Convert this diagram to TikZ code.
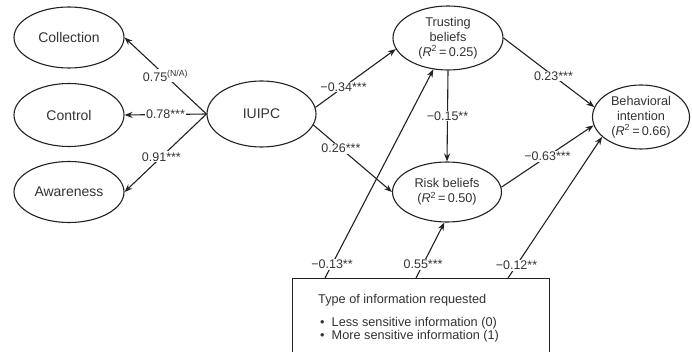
\documentclass[tikz,border=0pt]{standalone}
\usepackage{fontspec}
\setmainfont{Liberation Sans}
\usetikzlibrary{arrows.meta,shapes.geometric}
\definecolor{ink}{HTML}{222222}
\definecolor{txt}{HTML}{333333}
\tikzset{
  oval/.style={ellipse,draw=ink,line width=1.1pt,inner sep=0pt,text=txt,align=center},
  big/.style={font=\fontsize{14}{16}\selectfont},
  small/.style={font=\fontsize{12.7}{15}\selectfont},
  conn/.style={draw=ink,line width=1.1pt,-{Stealth[length=8pt,width=6pt]}},
  lbl/.style={fill=white,inner sep=1pt,text=txt,font=\fontsize{12.5}{14}\selectfont},
  boxtext/.style={anchor=west,inner sep=0pt,text=txt,font=\fontsize{12.7}{15}\selectfont}
}
\begin{document}
\begin{tikzpicture}[x=1pt,y=-1pt]
\clip (0,0) rectangle (692,352);
\fill[white] (0,0) rectangle (692,352);
% nodes
\node[oval,big,minimum width=110pt,minimum height=61pt] (coll) at (69,37.5) {Collection};
\node[oval,big,minimum width=110pt,minimum height=63pt] (ctrl) at (69,115) {Control};
\node[oval,big,minimum width=110pt,minimum height=61pt] (awar) at (69,192) {Awareness};
\node[oval,big,minimum width=109pt,minimum height=66pt] (iuipc) at (261.5,114) {IUIPC};
\node[oval,small,minimum width=110pt,minimum height=64pt] (trust) at (448,38) {Trusting\\beliefs\\(\textit{R}\textsuperscript{2}\,=\,0.25)};
\node[oval,small,minimum width=109pt,minimum height=60pt] (risk) at (447,192) {Risk beliefs\\(\textit{R}\textsuperscript{2}\,=\,0.50)};
\node[oval,small,minimum width=97pt,minimum height=64pt] (beh) at (641,117) {Behavioral\\intention\\(\textit{R}\textsuperscript{2}\,=\,0.66)};
\node[draw=ink,line width=1.1pt,anchor=north west,minimum width=257pt,minimum height=90pt,inner sep=0pt] (box) at (292,278) {};
\node[boxtext] (t1) at (318,300) {Type of information requested};
\node[boxtext] (t2) at (320,323) {•\ \ Less sensitive information (0)};
\node[boxtext] (t3) at (320,336) {•\ \ More sensitive information (1)};
\coordinate (b1) at (325,278);
\coordinate (b2) at (416,278);
\coordinate (b3) at (508,278);
% connectors
\draw[conn] (iuipc.west) -- node[lbl,pos=0.5] {0.75\textsuperscript{(N/A)}} (coll.east);
\draw[conn] (iuipc.west) -- node[lbl,pos=0.5] {0.78***} (ctrl.east);
\draw[conn] (iuipc.west) -- node[lbl,pos=0.55] {0.91***} (awar.east);
\draw[conn] (iuipc.7) -- node[lbl,pos=0.35] {−0.34***} (trust.192);
\draw[conn] (iuipc.-12) -- node[lbl,pos=0.35] {0.26***} (risk.180);
\draw[conn] (trust.south) -- node[lbl,pos=0.5] {−0.15**} (risk.north);
\draw[conn] (trust.east) -- node[lbl,pos=0.55] {0.23***} (beh.168);
\draw[conn] (risk.5) -- node[lbl,pos=0.5] {−0.63***} (beh.190);
\draw[conn] (b1) -- node[lbl,pos=0.065] {−0.13**} (trust.245);
\draw[conn] (b2) -- node[lbl,pos=0.25] {0.55***} (risk.265);
\draw[conn] (b3) -- node[lbl,pos=0.09] {−0.12**} (beh.207);
\end{tikzpicture}
\end{document}
